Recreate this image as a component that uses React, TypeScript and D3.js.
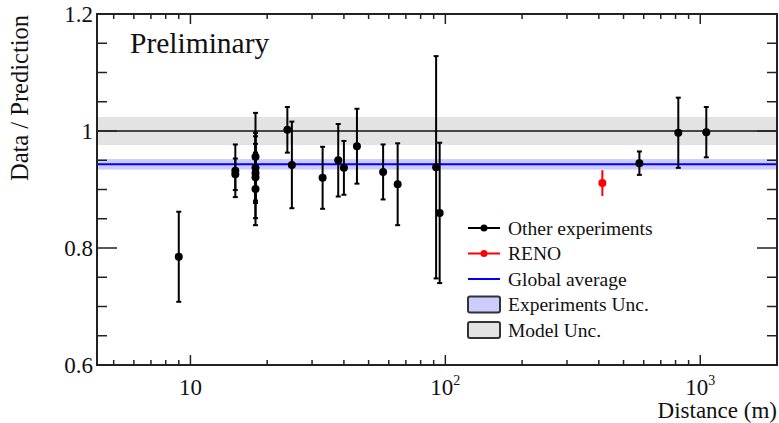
import React from "react";
import * as d3 from "d3";

// Other experiments: distance (m), data/prediction ratio, uncertainty
const otherDistance = [9.0, 15, 15, 18, 18, 18, 18, 18, 24, 25, 33, 38, 40, 45, 57, 65, 92, 95, 577, 820, 1056];
const otherRatio = [0.785, 0.932, 0.926, 0.956, 0.937, 0.928, 0.921, 0.901, 1.002, 0.942, 0.92, 0.95, 0.937, 0.974, 0.93, 0.909, 0.938, 0.86, 0.945, 0.997, 0.998];
const otherError = [0.077, 0.045, 0.027, 0.075, 0.06, 0.05, 0.07, 0.062, 0.039, 0.074, 0.053, 0.062, 0.046, 0.064, 0.047, 0.07, 0.19, 0.12, 0.02, 0.06, 0.043];

// RENO
const renoDistance = [413];
const renoRatio = [0.911];
const renoError = [0.022];

// bands
const globalAverage = [0.943];
const globalBand = [0.934, 0.952];
const modelValue = [1.0];
const modelBand = [0.976, 1.024];

const yMajorTicks = [0.6, 0.8, 1.0, 1.2];
const yTickLabels = ["0.6", "0.8", "1", "1.2"];
const xMajorTicks = [10, 100, 1000];
const xTickExps = ["", "2", "3"];

const legendItems = ["Other experiments", "RENO", "Global average", "Experiments Unc.", "Model Unc."];

const W = 779;
const H = 423;
const left = 97, right = 777, top = 14, bottom = 365;
const font = "'Liberation Serif', 'DejaVu Serif', serif";

const App = () => {
  const x = d3.scaleLog().domain([4.3, 2000]).range([left, right]);
  const y = d3.scaleLinear().domain([0.6, 1.2]).range([bottom, top]);

  const xTicks = x.ticks().filter((t) => t > 4.3 && t < 2000);
  const yTicks = d3.range(0.6, 1.2001, 0.05);
  const isMajorX = (t: number) => Math.abs(Math.log10(t) - Math.round(Math.log10(t))) < 1e-6;
  const isMajorY = (t: number) => yMajorTicks.some((m) => Math.abs(m - t) < 1e-6);

  const other = otherDistance.map((d, i) => ({ d, r: otherRatio[i], e: otherError[i] }));
  const reno = renoDistance.map((d, i) => ({ d, r: renoRatio[i], e: renoError[i] }));

  const errBar = (p: { d: number; r: number; e: number }, color: string, key: string, cap = true) => (
    <g key={key} stroke={color} strokeWidth={2}>
      <line x1={x(p.d)} x2={x(p.d)} y1={y(p.r - p.e)} y2={y(p.r + p.e)} />
      {cap && <line x1={x(p.d) - 2.5} x2={x(p.d) + 2.5} y1={y(p.r - p.e)} y2={y(p.r - p.e)} />}
      {cap && <line x1={x(p.d) - 2.5} x2={x(p.d) + 2.5} y1={y(p.r + p.e)} y2={y(p.r + p.e)} />}
    </g>
  );

  const legX = 468, legW = 32, legText = 508, legY0 = 228, legStep = 25.5;

  return (
    <svg width={W} height={H} style={{ position: "absolute", left: 0, top: 0, background: "#fff" }} fontFamily={font}>
      {/* model uncertainty */}
      <rect x={left} width={right - left} y={y(modelBand[1])} height={y(modelBand[0]) - y(modelBand[1])} fill="#e3e3e3" />
      <line x1={left} x2={right} y1={y(modelValue[0])} y2={y(modelValue[0])} stroke="#111" strokeWidth={1.6} />
      {/* experiments uncertainty */}
      <rect x={left} width={right - left} y={y(globalBand[1])} height={y(globalBand[0]) - y(globalBand[1])} fill="#ccccff" />
      <line x1={left} x2={right} y1={y(globalAverage[0])} y2={y(globalAverage[0])} stroke="#0000ff" strokeWidth={2} />

      {/* points */}
      {other.map((p, i) => errBar(p, "#000", "e" + i))}
      {other.map((p, i) => (
        <circle key={"c" + i} cx={x(p.d)} cy={y(p.r)} r={4} fill="#000" />
      ))}
      {reno.map((p, i) => errBar(p, "#ff0000", "re" + i, false))}
      {reno.map((p, i) => (
        <circle key={"rc" + i} cx={x(p.d)} cy={y(p.r)} r={4} fill="#ff0000" />
      ))}

      {/* frame */}
      <rect x={left} y={top} width={right - left} height={bottom - top} fill="none" stroke="#222" strokeWidth={2} />

      {/* x ticks */}
      {xTicks.map((t, i) => {
        const len = isMajorX(t) ? 10 : 5;
        return (
          <g key={"xt" + i} stroke="#222" strokeWidth={1.5}>
            <line x1={x(t)} x2={x(t)} y1={bottom} y2={bottom - len} />
            <line x1={x(t)} x2={x(t)} y1={top} y2={top + len} />
          </g>
        );
      })}
      {/* y ticks */}
      {yTicks.map((t, i) => {
        const len = isMajorY(t) ? 20 : 10;
        return (
          <g key={"yt" + i} stroke="#222" strokeWidth={1.5}>
            <line x1={left} x2={left + len} y1={y(t)} y2={y(t)} />
            <line x1={right} x2={right - len} y1={y(t)} y2={y(t)} />
          </g>
        );
      })}

      {/* y tick labels */}
      {yMajorTicks.map((t, i) => (
        <text key={"yl" + i} x={93} y={y(t) + 8} textAnchor="end" fontSize={23} fill="#111">
          {yTickLabels[i]}
        </text>
      ))}
      {/* x tick labels */}
      {xMajorTicks.map((t, i) => (
        <text key={"xl" + i} x={x(t)} y={395} textAnchor="middle" fontSize={23} fill="#111">
          <tspan>10</tspan>
          {xTickExps[i] && (
            <tspan fontSize={14} dy={-10}>
              {xTickExps[i]}
            </tspan>
          )}
        </text>
      ))}

      {/* axis titles */}
      <text x={right} y={418} textAnchor="end" fontSize={23} fill="#111">
        Distance (m)
      </text>
      <text transform={`translate(28,${top + 1}) rotate(-90)`} textAnchor="end" fontSize={24.5} fill="#111">
        Data / Prediction
      </text>

      <text x={130} y={53} fontSize={29.5} fill="#111">
        Preliminary
      </text>

      {/* legend */}
      {legendItems.map((label, i) => {
        const cy = legY0 + i * legStep;
        let sym;
        if (i === 0 || i === 1) {
          const c = i === 0 ? "#000" : "#ff0000";
          sym = (
            <g>
              <line x1={legX} x2={legX + legW} y1={cy} y2={cy} stroke={c} strokeWidth={2} />
              <circle cx={legX + legW / 2} cy={cy} r={3.5} fill={c} />
            </g>
          );
        } else if (i === 2) {
          sym = <line x1={legX} x2={legX + legW} y1={cy} y2={cy} stroke="#0000ff" strokeWidth={2} />;
        } else {
          sym = (
            <rect x={legX} y={cy - 8} width={legW} height={16} rx={2} fill={i === 3 ? "#ccccff" : "#e3e3e3"} stroke="#333" strokeWidth={2} />
          );
        }
        return (
          <g key={"lg" + i}>
            {sym}
            <text x={legText} y={cy + 6.5} fontSize={19.5} fill="#111">
              {label}
            </text>
          </g>
        );
      })}
    </svg>
  );
};

export default App;
